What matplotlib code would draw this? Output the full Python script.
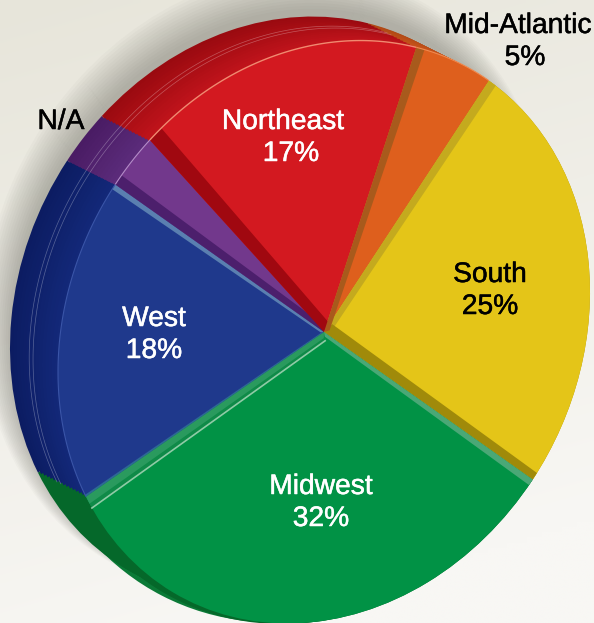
import numpy as np
import matplotlib
matplotlib.use("Agg")
import matplotlib.pyplot as plt
import matplotlib.patheffects as pe
from matplotlib.patches import Wedge
from matplotlib.transforms import Affine2D

plt.rcParams['font.family'] = ['Liberation Sans', 'DejaVu Sans']

# data, clockwise from the South slice
regions = ['South', 'Midwest', 'West', 'N/A', 'Northeast', 'Mid-Atlantic']
shares = [25, 32, 18, 3, 17, 5]
share_labels = ['25%', '32%', '18%', '', '17%', '5%']

face_colors = ['#e4c518', '#019245', '#1f398c', '#72388c', '#d31920', '#de5f1d']
side_inner = ['#c9ad14', '#05682a', '#13297a', '#5c2c7c', '#c2141c', '#c9541a']
side_outer = ['#a8900c', '#05682a', '#0c1c62', '#4a1c64', '#9a0a10', '#b04a16']

START = 51.7
W, H = 594, 623
RIM_X, RIM_Y = -48, -24


def pie_transform(dx=0, dy=0, s=1.0, cx=324, cy=332):
    # the picture is a tilted pie, so the circle goes through a sheared ellipse
    return (Affine2D.from_values(266 * s, -40 * s, 0, -288.7 * s, cx + dx, cy + dy)
            + ax.transData)


def draw_pie(colors, dx=0, dy=0, s=1.0, alpha=None):
    wedges, _ = ax.pie(shares, startangle=START, counterclock=False, colors=colors,
                       wedgeprops=dict(linewidth=0, alpha=alpha))
    for w in wedges:
        w.set_transform(pie_transform(dx, dy, s))


def mix(c1, c2, t):
    a = np.array(matplotlib.colors.to_rgb(c1))
    b = np.array(matplotlib.colors.to_rgb(c2))
    return tuple(a * (1 - t) + b * t)


def band_points(theta, side, w0, w1):
    t = np.radians(theta)
    n = np.array([-np.sin(t), np.cos(t)]) * side
    u = np.array([np.cos(t), np.sin(t)])
    p1 = n * w0 / 270 + u * 0.01
    t2 = t + side * w1 / 270
    p2 = np.array([np.cos(t2), np.sin(t2)])
    return u, p1, p2


def band(theta, side, w0, w1, color):
    # strip along a slice edge, side=1 is counterclockwise of the edge
    u, p1, p2 = band_points(theta, side, w0, w1)
    ax.fill([0, p1[0], p2[0], u[0]], [0, p1[1], p2[1], u[1]], color=color, lw=0,
            transform=pie_transform())


def arc(a1, a2, color, lw=1.0, dx=0, dy=0, alpha=1.0):
    t = np.radians(np.linspace(a1, a2, 100))
    ax.plot(np.cos(t), np.sin(t), color=color, lw=lw, alpha=alpha,
            transform=pie_transform(dx, dy), solid_capstyle='butt')


def label(x, y, s, color):
    ax.text(x, y, s, color=color, fontsize=20.3, ha='center', va='center',
            path_effects=[pe.withStroke(linewidth=0.35, foreground=color)])


fig = plt.figure(figsize=(W / 100, H / 100), dpi=100)
ax = fig.add_axes([0, 0, 1, 1])

# backdrop
yy, xx = np.mgrid[0:1:120j, 0:1:120j]
shade = np.clip(yy * 0.9 + xx * 0.25, 0, 1)[..., None]
top = np.array(matplotlib.colors.to_rgb('#e7e5da'))
bot = np.array(matplotlib.colors.to_rgb('#f8f7f4'))
ax.imshow(top * (1 - shade) + bot * shade, extent=(0, W, H, 0), aspect='auto',
          interpolation='bilinear', zorder=0)

# soft shadow behind the pie
for i in range(14):
    draw_pie(['#4a4a40'] * 6, dx=RIM_X - i * 0.8, dy=RIM_Y - 8 - i * 1.4, s=1.0 + i * 0.005, alpha=0.028)

# edge angles of the slices, from the shares
edges = START - np.cumsum([0] + shares) * 3.6

# Midwest side wall, it only shows at the lower left
for s, cx, cy, col in [(1.1, 315, 302, '#0b7a37'), (1.05, 320, 318, '#05682a')]:
    ax.add_patch(Wedge((0, 0), 1, edges[2] + 360 - 4.5, 275, color=col, lw=0,
                       transform=pie_transform(0, 0, s, cx, cy)))

# extruded rim of the pie, back to front
for t in np.linspace(1, 0, 16):
    cols = [mix(i, o, t) for i, o in zip(side_inner, side_outer)]
    cols[0] = '#a8900c'
    cols[1] = '#05682a'
    draw_pie(cols, dx=RIM_X * t, dy=RIM_Y * t)

# hairlines on the rim
for a1, a2 in [(edges[4], edges[5]), (edges[3], edges[4]), (edges[2], edges[3])]:
    for t in (0.52, 0.6):
        arc(a1, a2, '#ffffff', lw=0.5, dx=RIM_X * t, dy=RIM_Y * t, alpha=0.3)

# faces
draw_pie(face_colors)

# walls along the slice edges
band(edges[0], -1, 6, 9, '#c4aa1e')
band(edges[1], 1, 10, 7, '#a08a0a')
band(edges[1], -1, 3, 6, '#4aa876')
band(edges[2], 1, 8, 13, '#0f8a48')
band(edges[2], 1, 5, 8, '#2a9a5e')
band(edges[2], -1, 1, 2, '#2d6a94')
band(edges[3], 1, 2, 5, '#5a7fb0')
band(edges[3], -1, 5, 10, '#4c1f6c')
band(edges[4], -1, 9, 15, '#a00810')
band(edges[5], -1, 5, 9, '#a85a1c')

# light line where the Midwest wall meets its face
u, p1, p2 = band_points(edges[2], 1, 8, 13)
ax.plot([p1[0], p2[0]], [p1[1], p2[1]], color='#8fcba6', lw=1.2, transform=pie_transform())

# highlights on the face edges
arc(edges[4], edges[5], '#f08a70', lw=1.0)
arc(edges[5], edges[6], '#f08a50', lw=0.8)
arc(edges[3], edges[4], '#b48cc8', lw=0.8)
arc(edges[2], edges[3], '#3a55a8', lw=0.8)

# labels
label(283, 122, regions[4], 'white')
label(291, 154, share_labels[4], 'white')
label(490, 275, regions[0], 'black')
label(490, 307, share_labels[0], 'black')
label(321, 487, regions[1], 'white')
label(321, 519, share_labels[1], 'white')
label(154, 319, regions[2], 'white')
label(154, 351, share_labels[2], 'white')
label(518, 26, regions[5], 'black')
label(525, 58, share_labels[5], 'black')
label(61, 122, regions[3], 'black')

ax.set_xlim(0, W)
ax.set_ylim(H, 0)
ax.set_aspect('auto')
ax.axis('off')
fig.savefig('out.png', dpi=100)
